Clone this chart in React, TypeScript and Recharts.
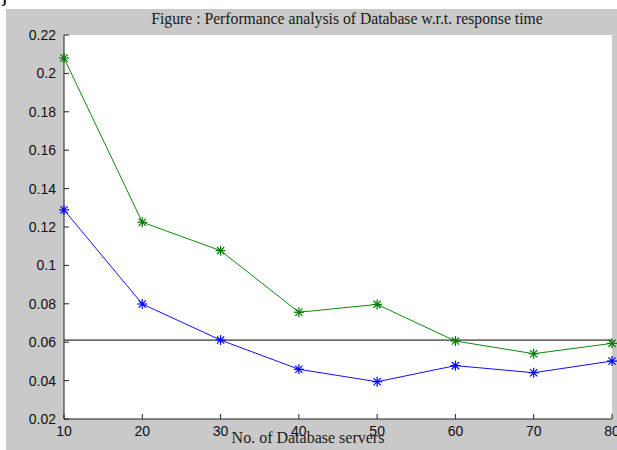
import React from "react";
import {
  LineChart,
  Line,
  XAxis,
  YAxis,
  CartesianGrid,
  ReferenceLine,
} from "recharts";

// values
const servers = [10, 20, 30, 40, 50, 60, 70, 80];
const greenSeries = [0.208, 0.1225, 0.1077, 0.0756, 0.0797, 0.0606, 0.054, 0.0594];
const blueSeries = [0.1289, 0.0799, 0.0611, 0.0459, 0.0394, 0.0478, 0.0441, 0.0502];
const thresholdValue = 0.0611;
const xTicks = [10, 20, 30, 40, 50, 60, 70, 80];
const yTicks = [0.02, 0.04, 0.06, 0.08, 0.1, 0.12, 0.14, 0.16, 0.18, 0.2, 0.22];

const data = servers.map((s, i) => ({
  servers: s,
  green: greenSeries[i],
  blue: blueSeries[i],
}));

const tickFont = {
  fontFamily: "'Liberation Sans', Arial, sans-serif",
  fontSize: 14,
  fill: "#0e0e1a",
};

function Asterisk(props: any) {
  const { cx, cy, stroke } = props;
  if (cx == null || cy == null) return <g />;
  const r = 5;
  const d = 3.6;
  return (
    <g stroke={stroke} strokeWidth={1.2}>
      <line x1={cx - r} y1={cy} x2={cx + r} y2={cy} />
      <line x1={cx} y1={cy - r} x2={cx} y2={cy + r} />
      <line x1={cx - d} y1={cy - d} x2={cx + d} y2={cy + d} />
      <line x1={cx - d} y1={cy + d} x2={cx + d} y2={cy - d} />
    </g>
  );
}

export default function App() {
  return (
    <div
      style={{
        position: "absolute",
        left: 0,
        top: 0,
        width: 617,
        height: 450,
        background: "#fff",
        overflow: "hidden",
      }}
    >
      <div
        style={{
          position: "absolute",
          left: 6,
          top: 9,
          right: 0,
          bottom: 0,
          background: "#c9c9c9",
        }}
      />
      <div
        style={{
          position: "absolute",
          left: 2,
          top: -9,
          fontFamily: "'Liberation Serif', serif",
          fontWeight: "bold",
          fontSize: 14,
          color: "#111",
        }}
      >
        j
      </div>
      <div style={{ position: "absolute", left: 0, top: 0 }}>
        <LineChart
          width={617}
          height={450}
          data={data}
          margin={{ top: 35, right: 5, bottom: 0, left: 0 }}
        >
          <CartesianGrid horizontal={false} vertical={false} fill="#fff" />
          <XAxis
            dataKey="servers"
            type="number"
            domain={[10, 80]}
            ticks={xTicks}
            height={31}
            tickSize={-5}
            tickMargin={12}
            stroke="#222"
            tick={tickFont}
            interval={0}
          />
          <XAxis
            xAxisId="top"
            orientation="top"
            dataKey="servers"
            type="number"
            domain={[10, 80]}
            ticks={xTicks}
            height={0}
            tickSize={-5}
            stroke="#222"
            tick={false}
          />
          <YAxis
            type="number"
            domain={[0.02, 0.22]}
            ticks={yTicks}
            width={64}
            tickSize={-5}
            tickMargin={13}
            stroke="#222"
            tick={tickFont}
            interval={0}
          />
          <YAxis
            yAxisId="r"
            orientation="right"
            type="number"
            domain={[0.02, 0.22]}
            ticks={yTicks}
            width={0}
            tickSize={-5}
            stroke="#222"
            tick={false}
          />
          <ReferenceLine y={thresholdValue} stroke="#000" strokeWidth={1} />
          <Line
            dataKey="green"
            stroke="#0a8a0a"
            strokeWidth={1}
            isAnimationActive={false}
            dot={(p: any) => <Asterisk key={`g${p.index}`} {...p} stroke="#007a00" />}
          />
          <Line
            dataKey="blue"
            stroke="#1010ff"
            strokeWidth={1}
            isAnimationActive={false}
            dot={(p: any) => <Asterisk key={`b${p.index}`} {...p} stroke="#0000ff" />}
          />
        </LineChart>
      </div>
      <div
        style={{
          position: "absolute",
          left: 127,
          width: 440,
          top: 11,
          textAlign: "center",
          fontFamily: "'Liberation Serif', 'Times New Roman', serif",
          fontSize: 15.7,
          lineHeight: "15.7px",
          color: "#1a1a1a",
          whiteSpace: "nowrap",
        }}
      >
        Figure : Performance analysis of Database w.r.t. response time
      </div>
      <div
        style={{
          position: "absolute",
          left: 208,
          width: 200,
          top: 430,
          textAlign: "center",
          fontFamily: "'Liberation Serif', 'Times New Roman', serif",
          fontSize: 16,
          lineHeight: "16px",
          color: "#1a1a1a",
          whiteSpace: "nowrap",
        }}
      >
        No. of Database servers
      </div>
    </div>
  );
}
